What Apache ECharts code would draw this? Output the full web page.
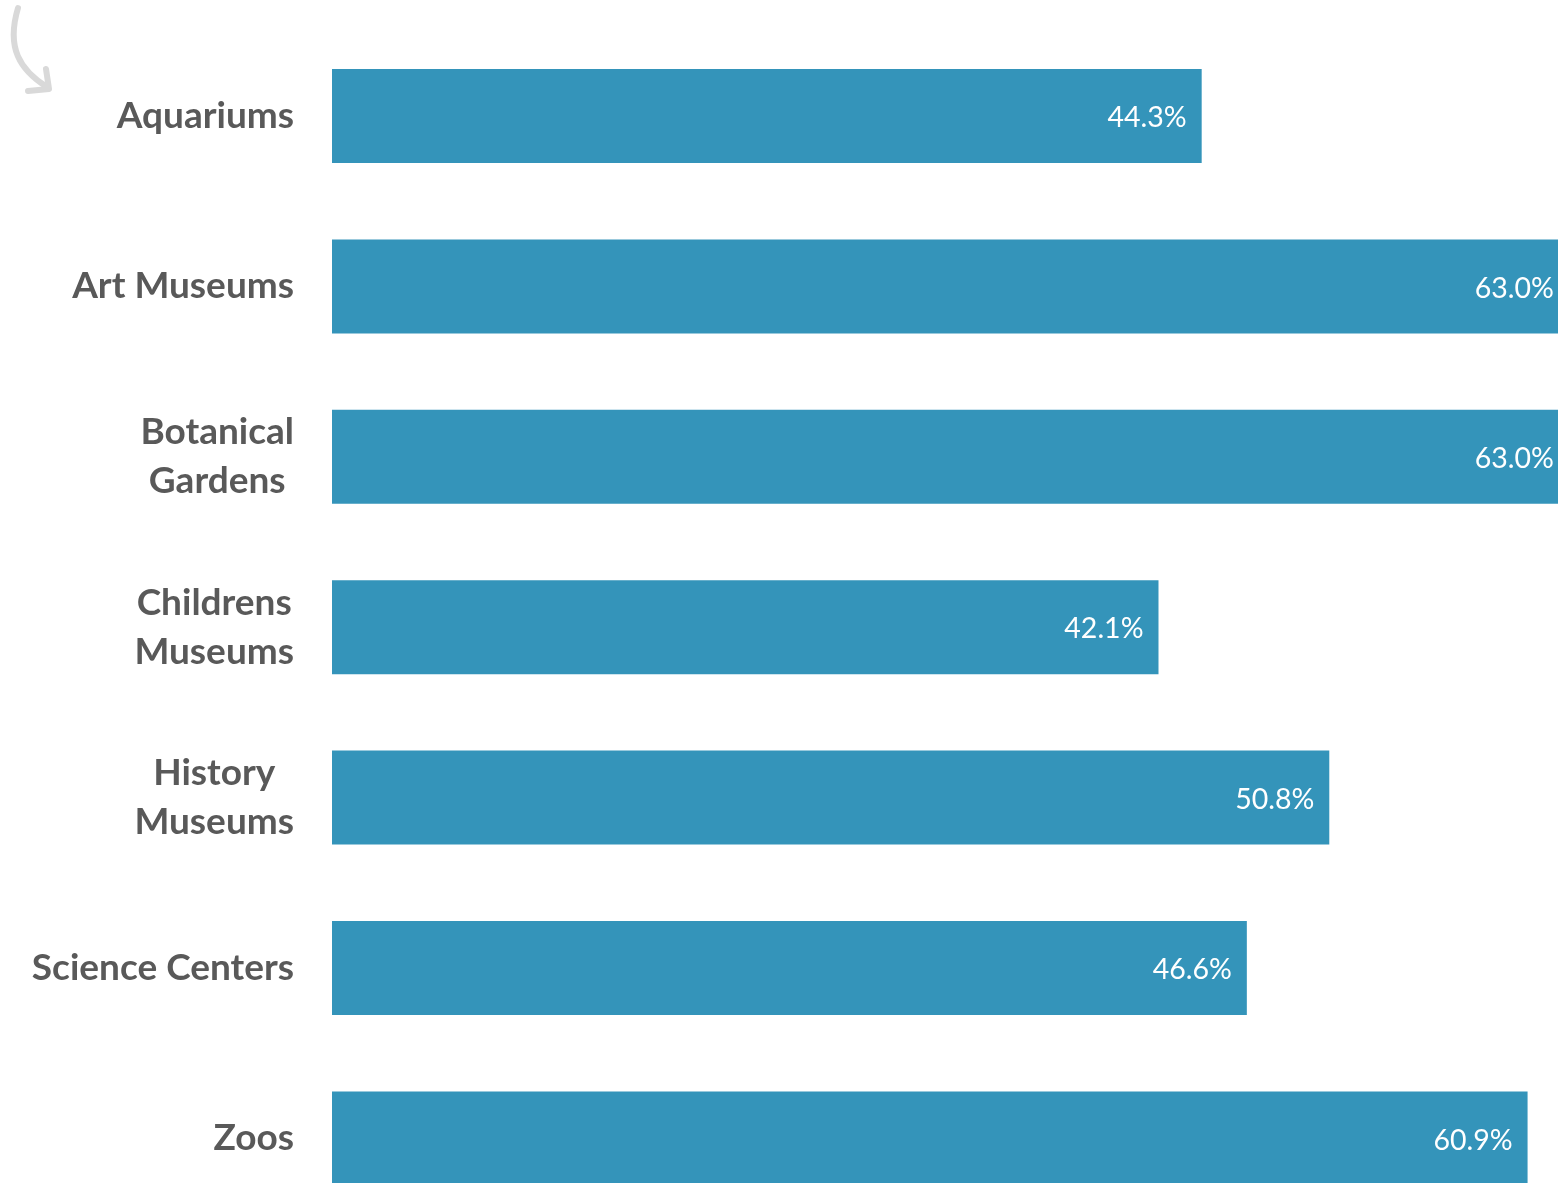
<!DOCTYPE html>
<html>
<head>
<meta charset="utf-8">
<script src="https://cdn.jsdelivr.net/npm/echarts@6/dist/echarts.min.js"></script>
<style>
html,body{margin:0;padding:0;background:#fff;}
#chart{width:1558px;height:1183px;}
</style>
</head>
<body>
<div id="chart"></div>
<script>
const categories = ['Aquariums', 'Art Museums', 'Botanical\nGardens', 'Childrens\nMuseums', 'History\nMuseums', 'Science Centers', 'Zoos'];
const values = [44.3, 63.0, 63.0, 42.1, 50.8, 46.6, 60.9];

const chart = echarts.init(document.getElementById('chart'), null, {renderer: 'canvas'});
chart.setOption({
  animation: false,
  backgroundColor: '#ffffff',
  grid: {left: 332, top: 116, right: 0, bottom: 44.6, containLabel: false},
  xAxis: {
    type: 'value', min: 0, max: 62.45, show: false,
    splitLine: {show: false}
  },
  yAxis: {
    type: 'category', data: categories, inverse: true, boundaryGap: false,
    axisLine: {show: false}, axisTick: {show: false}, splitLine: {show: false},
    axisLabel: {
      margin: 38, align: 'right',
      formatter: function (v) { return v.split('\n').map(s => '{c|' + s + '}').join('\n'); },
      rich: {
        c: {align: 'center', fontFamily: 'Lato', fontWeight: 'bold', fontSize: 37, color: '#595959', lineHeight: 49}
      }
    }
  },
  series: [{
    type: 'bar', data: values, barWidth: 94, clip: false,
    itemStyle: {color: '#3494BA'},
    label: {
      show: true, position: 'insideRight', distance: 15, offset: [0, 2],
      formatter: p => p.value.toFixed(1) + '%',
      color: '#ffffff', fontFamily: 'Lato', fontSize: 28.5
    }
  }],
  graphic: [
    {type: 'bezierCurve', shape: {x1: 18, y1: 8, cpx1: 6, cpy1: 48, cpx2: 20, cpy2: 70, x2: 47, y2: 87},
     style: {stroke: '#d9d9d9', lineWidth: 6, fill: null, lineCap: 'round'}},
    {type: 'polyline', shape: {points: [[46, 69], [49, 89], [28, 91]]},
     style: {stroke: '#d9d9d9', lineWidth: 6, fill: null, lineCap: 'round', lineJoin: 'round'}}
  ]
});
</script>
</body>
</html>
